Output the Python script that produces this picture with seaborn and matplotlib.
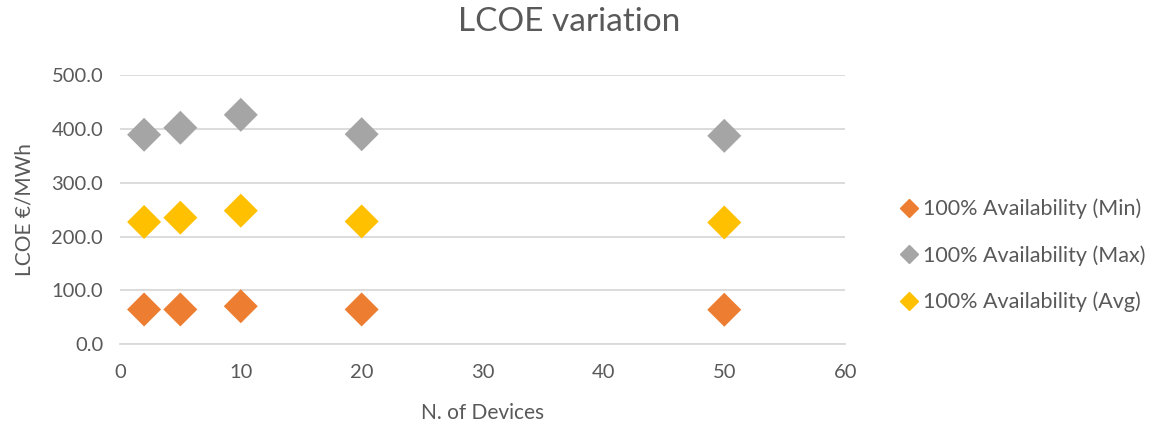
import matplotlib
matplotlib.use("Agg")
import matplotlib.pyplot as plt
import seaborn as sns
import pandas as pd

devices = [2, 5, 10, 20, 50]
lcoe_min = [64.5, 64.5, 70.5, 64.5, 64.0]
lcoe_max = [389, 402, 426, 390, 387]
lcoe_avg = [227, 235, 248, 228, 226]
series_names = ["100% Availability (Min)", "100% Availability (Max)", "100% Availability (Avg)"]
colors = ["#ED7D31", "#A5A5A5", "#FFC000"]

df = pd.concat([
    pd.DataFrame({"N. of Devices": devices, "LCOE": vals, "Series": name})
    for vals, name in zip([lcoe_min, lcoe_max, lcoe_avg], series_names)
])

sns.set_theme(style="white")
plt.rcParams["font.family"] = ["Lato", "DejaVu Sans"]
txt = "#595959"
grid = "#D9D9D9"

fig = plt.figure(figsize=(11.53, 4.26), dpi=100)
ax = fig.add_axes([0.104, 0.192, 0.629, 0.632])

sns.scatterplot(data=df, x="N. of Devices", y="LCOE", hue="Series",
                palette=dict(zip(series_names, colors)), marker="D", s=300,
                edgecolor="none", linewidth=0, ax=ax, legend=False, zorder=3)

ax.set_xlim(0, 60)
ax.set_ylim(0, 500)
ax.set_xticks(range(0, 61, 10))
ax.set_yticks(range(0, 501, 100))
ax.set_yticklabels([f"{v:.1f}" for v in range(0, 501, 100)])
ax.yaxis.grid(True, color=grid, linewidth=1.3)
ax.set_axisbelow(True)
for s in ["top", "right", "left"]:
    ax.spines[s].set_visible(False)
ax.spines["bottom"].set_color(grid)
ax.spines["bottom"].set_linewidth(1.3)
ax.tick_params(axis="x", colors=grid, length=6, width=1.3, direction="out",
               labelcolor=txt, labelsize=14.5, pad=8)
ax.tick_params(axis="y", length=0, labelcolor=txt, labelsize=14.5, pad=12)

ax.set_xlabel("N. of Devices", color=txt, fontsize=15, labelpad=16)
ax.set_ylabel("LCOE €/MWh", color=txt, fontsize=15, labelpad=12)
fig.text(0.494, 0.948, "LCOE variation", color=txt, fontsize=24, ha="center", va="center")

handles = [plt.Line2D([], [], marker="D", linestyle="none", color=c, markersize=9)
           for c in colors]
leg = fig.legend(handles, series_names, loc="center left", bbox_to_anchor=(0.762, 0.40),
                 frameon=False, fontsize=15.5, labelspacing=1.2, handletextpad=0.15,
                 handlelength=1.0)
for t in leg.get_texts():
    t.set_color(txt)

fig.savefig("out.png", dpi=100)
